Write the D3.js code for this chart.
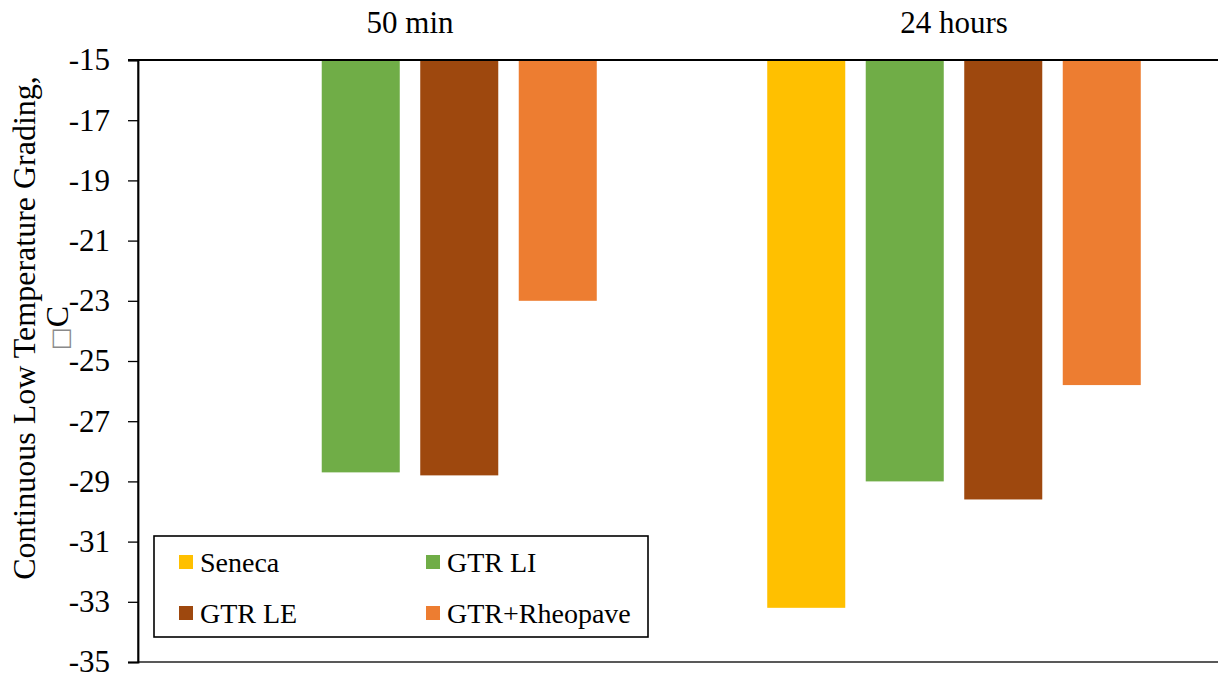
<!DOCTYPE html>
<html>
<head>
<meta charset="utf-8">
<script src="https://cdn.jsdelivr.net/npm/d3@7"></script>
<style>
  html, body { margin: 0; padding: 0; background: #fff; }
  svg { display: block; }
  text { font-family: "Liberation Serif", "Times New Roman", serif; fill: #000; }
</style>
</head>
<body>
<svg id="chart" width="1218" height="679"></svg>
<script>
// Curing periods (categories) and binders (series)
const periods = ["50 min", "24 hours"];
const binders = ["Seneca", "GTR LI", "GTR LE", "GTR+Rheopave"];
const colors = ["#FFC000", "#70AD47", "#9E480E", "#ED7D31"];

// Continuous low temperature grade, °C, per binder (null = not tested)
const seneca      = [null, -33.2];
const gtrLI       = [-28.7, -29.0];
const gtrLE       = [-28.8, -29.6];
const gtrRheopave = [-23.0, -25.8];
const seriesValues = [seneca, gtrLI, gtrLE, gtrRheopave];

const yTicks = [-15, -17, -19, -21, -23, -25, -27, -29, -31, -33, -35];

const svg = d3.select("#chart");
const plot = { left: 138, right: 1226, top: 60, bottom: 662 };
const serif = "'Liberation Serif', 'Times New Roman', serif";

const y = d3.scaleLinear().domain([-15, -35]).range([plot.top, plot.bottom]);

const x0 = d3.scaleBand()
  .domain(periods)
  .range([plot.left, plot.right])
  .paddingInner(0.2757)
  .paddingOuter(0.2757 / 2);

const x1 = d3.scaleBand()
  .domain(binders)
  .range([0, x0.bandwidth()])
  .paddingInner(0.208)
  .paddingOuter(0.104);

// Plot area frame
svg.append("rect")
  .attr("x", plot.left).attr("y", plot.top)
  .attr("width", plot.right - plot.left).attr("height", plot.bottom - plot.top)
  .attr("fill", "none").attr("stroke", "#000").attr("stroke-width", 1.3);

// Bars hang down from the -15 axis
const rows = [];
periods.forEach((p, i) => {
  binders.forEach((b, j) => {
    const v = seriesValues[j][i];
    if (v !== null) rows.push({ period: p, binder: b, value: v, color: colors[j] });
  });
});

svg.append("g").selectAll("rect")
  .data(rows)
  .join("rect")
  .attr("x", d => x0(d.period) + x1(d.binder))
  .attr("y", y(-15))
  .attr("width", x1.bandwidth())
  .attr("height", d => y(d.value) - y(-15))
  .attr("fill", d => d.color);

// Y axis
const yAxis = svg.append("g")
  .attr("transform", `translate(${plot.left},0)`)
  .call(d3.axisLeft(y).tickValues(yTicks).tickSize(10).tickPadding(18).tickFormat(d => String(d)));
yAxis.select(".domain").attr("stroke", "#000").attr("stroke-width", 1.8);
yAxis.selectAll(".tick line").attr("stroke", "#000").attr("stroke-width", 1.3);
yAxis.selectAll(".tick text")
  .style("font-family", serif)
  .style("font-size", "31px").attr("fill", "#000");

// Category axis along the top (value -15)
const xAxis = svg.append("g")
  .attr("transform", `translate(0,${y(-15)})`)
  .call(d3.axisTop(x0).tickSize(0).tickPadding(27));
xAxis.select(".domain").attr("stroke", "#000").attr("stroke-width", 2.2)
  .attr("d", `M${plot.left - 10},0H${plot.right}`);
xAxis.selectAll(".tick text")
  .style("font-family", serif)
  .style("font-size", "31px").attr("fill", "#000");

// Y axis title
const title = svg.append("text")
  .attr("transform", "translate(35,328) rotate(-90)")
  .attr("text-anchor", "middle")
  .style("font-size", "32px");
title.append("tspan").attr("x", 0).attr("dy", 0).text("Continuous Low Temperature Grading,");
const line2 = title.append("tspan").attr("x", 0).attr("dy", 33);
line2.append("tspan").style("fill", "#8a8a8a").style("font-family", "'DejaVu Sans', sans-serif").style("font-size", "24px").text("\u25A1");
line2.append("tspan").text("C");

// Legend
const legend = svg.append("g").attr("transform", "translate(154,536)");
legend.append("rect")
  .attr("width", 494).attr("height", 101)
  .attr("fill", "#fff").attr("stroke", "#000").attr("stroke-width", 1.6);
const cols = [25, 272], rowY = [26, 77];
binders.forEach((b, i) => {
  const g = legend.append("g")
    .attr("transform", `translate(${cols[i % 2]},${rowY[Math.floor(i / 2)]})`);
  g.append("rect").attr("x", 0).attr("y", -7).attr("width", 14).attr("height", 14).attr("fill", colors[i]);
  g.append("text").attr("x", 21).attr("y", 10).style("font-size", "28px").text(b);
});
</script>
</body>
</html>
